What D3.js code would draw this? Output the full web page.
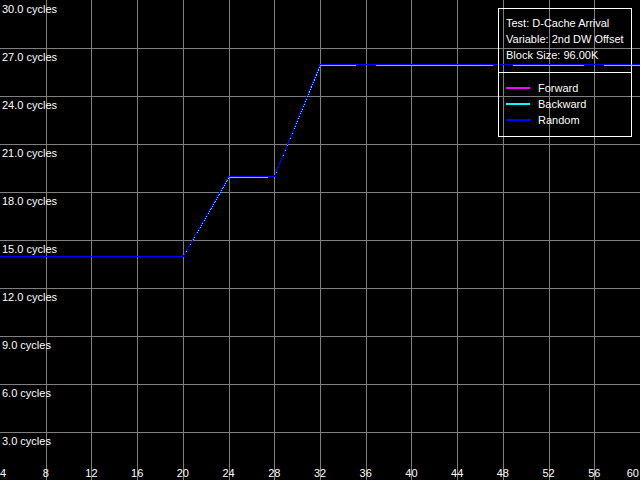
<!DOCTYPE html>
<html>
<head>
<meta charset="utf-8">
<script src="https://cdn.jsdelivr.net/npm/d3@7"></script>
<style>
  html, body { margin: 0; padding: 0; background: #000; }
  svg { display: block; }
  text { font-family: "Liberation Sans", Arial, sans-serif; font-size: 11px; fill: #fff; }
</style>
</head>
<body>
<svg id="chart" width="640" height="480"></svg>
<script>
// ---- data ----
const offsets = [4, 6, 8, 10, 12, 14, 16, 18, 20, 22, 24, 26, 28, 30, 32, 34, 36, 38, 40, 42, 44, 46, 48, 50, 52, 54, 56, 58, 60];
const forward = [13.95, 13.95, 13.95, 13.95, 13.95, 13.95, 13.95, 13.95, 13.95, 16.45, 18.96, 18.96, 18.96, 22.47, 25.98, 25.98, 25.98, 25.98, 25.98, 25.98, 25.98, 25.98, 25.98, 25.98, 25.98, 25.98, 25.98, 25.98, 25.98];
const backward = [13.95, 13.95, 13.95, 13.95, 13.95, 13.95, 13.95, 13.95, 13.95, 16.40, 18.88, 18.88, 18.96, 22.42, 25.88, 25.88, 25.98, 25.88, 25.88, 25.88, 25.88, 25.88, 25.98, 25.88, 25.88, 25.88, 25.98, 25.88, 25.88];
const random = [13.95, 13.95, 13.95, 13.95, 13.95, 13.95, 13.95, 13.95, 13.95, 16.45, 18.96, 18.96, 18.96, 22.47, 25.98, 25.98, 25.98, 25.98, 25.98, 25.98, 25.98, 25.98, 25.98, 25.98, 25.98, 25.98, 25.98, 25.98, 25.98];
const xTicks = [4, 8, 12, 16, 20, 24, 28, 32, 36, 40, 44, 48, 52, 56, 60];
const yTicks = [3, 6, 9, 12, 15, 18, 21, 24, 27, 30];
const seriesNames = ["Forward", "Backward", "Random"];
const seriesColors = ["#ff00ff", "#00ffff", "#0000ff"];
const infoLines = ["Test: D-Cache Arrival", "Variable: 2nd DW Offset", "Block Size: 96.00K"];

// ---- chart ----
const W = 640, H = 480;
const svg = d3.select("#chart");
svg.append("rect").attr("width", W).attr("height", H).attr("fill", "#000");

const x = d3.scaleLinear().domain([4, 60]).range([0, W]);
const y = d3.scaleLinear().domain([0, 30]).range([H, 0]);

const grid = svg.append("g").attr("shape-rendering", "crispEdges");
grid.selectAll("line.v").data(xTicks.filter(d => d > 4 && d < 60)).enter().append("line")
  .attr("class", "v")
  .attr("x1", d => Math.round(x(d)) + 0.5).attr("x2", d => Math.round(x(d)) + 0.5)
  .attr("y1", 0).attr("y2", H)
  .attr("stroke", "#808080").attr("stroke-width", 1);
grid.selectAll("line.h").data(yTicks.filter(d => d < 30)).enter().append("line")
  .attr("class", "h")
  .attr("y1", d => Math.round(y(d)) + 0.5).attr("y2", d => Math.round(y(d)) + 0.5)
  .attr("x1", 0).attr("x2", W)
  .attr("stroke", "#808080").attr("stroke-width", 1);

// y labels
svg.selectAll("text.ylab").data(yTicks).enter().append("text")
  .attr("class", "ylab")
  .attr("x", 2)
  .attr("y", d => y(d) + 12.5)
  .text(d => d.toFixed(1) + " cycles");

// x labels
svg.selectAll("text.xlab").data(xTicks).enter().append("text")
  .attr("class", "xlab")
  .attr("x", d => d === 4 ? 0 : (d === 60 ? W - 1 : x(d)))
  .attr("y", 477)
  .attr("text-anchor", d => d === 4 ? "start" : (d === 60 ? "end" : "middle"))
  .text(d => d);

// series
const lineGen = d3.line().x((d, i) => x(offsets[i])).y(d => y(d));
const allSeries = [forward, backward, random];
allSeries.forEach((vals, k) => {
  svg.append("path")
    .datum(vals)
    .attr("d", lineGen)
    .attr("fill", "none")
    .attr("stroke", seriesColors[k])
    .attr("stroke-width", 1)
    .attr("shape-rendering", "crispEdges");
});

// legend box
const lg = svg.append("g");
lg.append("rect").attr("x", 498.5).attr("y", 8.5).attr("width", 133).attr("height", 127.5)
  .attr("fill", "none").attr("stroke", "#fff").attr("stroke-width", 1).attr("shape-rendering", "crispEdges");
lg.append("line").attr("x1", 498.5).attr("x2", 631.5).attr("y1", 72.5).attr("y2", 72.5)
  .attr("stroke", "#fff").attr("stroke-width", 1).attr("shape-rendering", "crispEdges");
lg.selectAll("text.info").data(infoLines).enter().append("text")
  .attr("class", "info")
  .attr("x", 506).attr("y", (d, i) => 27 + i * 16).text(d => d);
seriesNames.forEach((name, i) => {
  const yy = 88 + i * 16;
  lg.append("line").attr("x1", 506).attr("x2", 530).attr("y1", yy).attr("y2", yy)
    .attr("stroke", seriesColors[i]).attr("stroke-width", 2).attr("shape-rendering", "crispEdges");
  lg.append("text").attr("x", 538).attr("y", yy + 4).text(name);
});
</script>
</body>
</html>
